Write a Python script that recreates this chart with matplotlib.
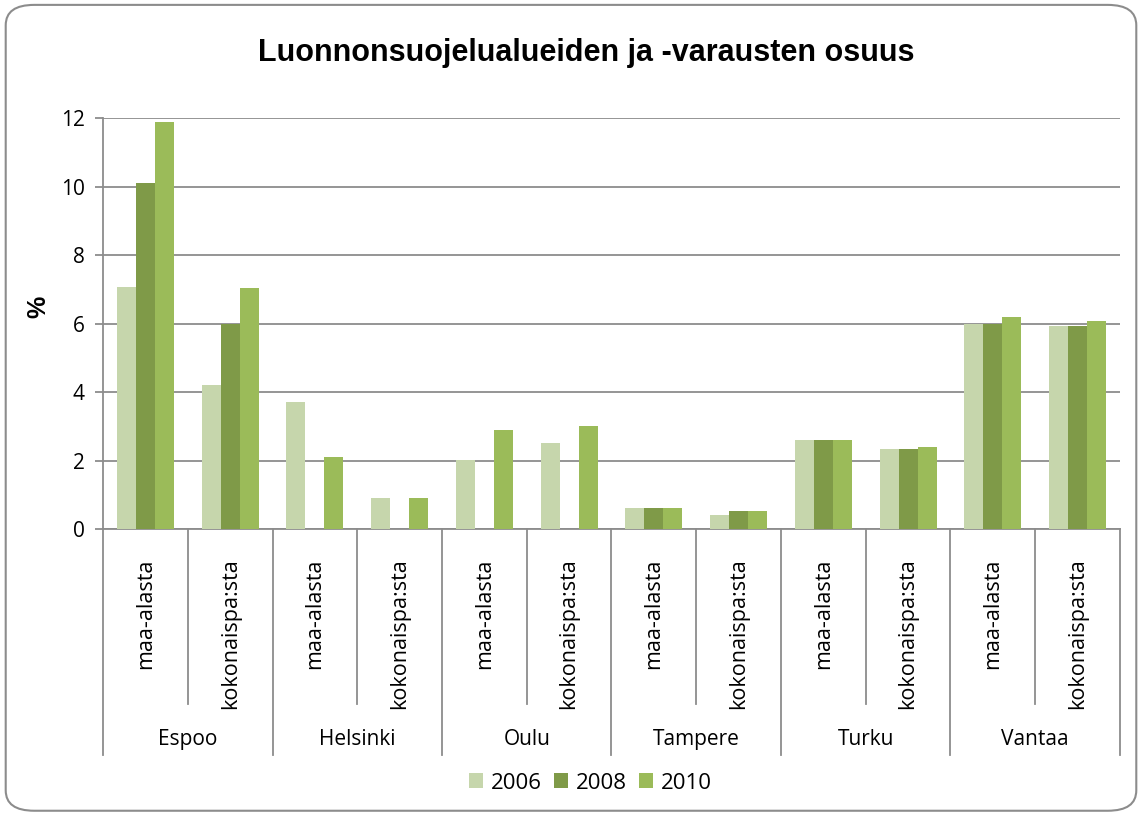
#!/usr/bin/env python3
# -*- coding: utf-8 -*-

"""
bar chart: share of nature protection areas per city, 2006/2008/2010
"""
import numpy as np
import matplotlib
matplotlib.use('Agg')
import matplotlib.pyplot as plt
from matplotlib.patches import FancyBboxPatch
import matplotlib.transforms as mtransforms

cities = ['Espoo', 'Helsinki', 'Oulu', 'Tampere', 'Turku', 'Vantaa']
measures = ['maa-alasta', 'kokonaispa:sta']
years = ['2006', '2008', '2010']

# values per (city, measure), in order Espoo maa, Espoo koko, Helsinki maa, ...
v2006 = [7.07, 4.2, 3.71, 0.9, 2.01, 2.51, 0.61, 0.41, 2.6, 2.34, 5.99, 5.93]
v2008 = [10.1, 6.0, 0.0, 0.0, 0.0, 0.0, 0.61, 0.53, 2.6, 2.34, 5.99, 5.93]
v2010 = [11.88, 7.04, 2.1, 0.9, 2.89, 3.0, 0.61, 0.53, 2.6, 2.39, 6.19, 6.07]

colors = ['#C6D6AC', '#7F9A48', '#9BBB59']
font = 'Open Sans'
grey = '#8C8C8C'


def main():
    fig = plt.figure(figsize=(11.42, 8.14), dpi=100)
    ax = fig.add_axes([0.0902, 0.3501, 0.8905, 0.5049])

    n = len(cities) * len(measures)
    x = np.arange(n)
    w = 0.224
    for k, (vals, col, yr) in enumerate(zip([v2006, v2008, v2010], colors, years)):
        ax.bar(x + (k - 1) * w, vals, width=w, color=col, label=yr, zorder=3)

    ax.set_xlim(-0.5, n - 0.5)
    ax.set_ylim(0, 12)
    ax.set_yticks(range(0, 13, 2))
    ax.yaxis.grid(True, color=grey, lw=1.3, zorder=0)
    ax.set_xticks([])
    for s in ['top', 'right']:
        ax.spines[s].set_visible(False)
    for s in ['left', 'bottom']:
        ax.spines[s].set_color(grey)
        ax.spines[s].set_linewidth(1.3)
    ax.tick_params(axis='y', length=6, width=1.3, color=grey, pad=7,
                   labelsize=15)
    for t in ax.get_yticklabels():
        t.set_fontfamily(font)

    ax.set_ylabel('%', fontsize=18, fontweight='bold', family='Liberation Sans')
    ax.yaxis.set_label_coords(-0.052, 0.54)

    # category axis: sub labels, group labels and separators
    trans = mtransforms.blended_transform_factory(ax.transData, ax.transAxes)
    for i in range(n):
        ax.text(x[i], -0.072, measures[i % 2], rotation=90, ha='center',
                va='top', fontsize=15.5, family=font, transform=trans)
    for i in range(n + 1):
        bottom = -0.55 if i % 2 == 0 else -0.426
        ax.plot([i - 0.5, i - 0.5], [0, bottom], color=grey, lw=1.3,
                transform=trans, clip_on=False)
    for j, c in enumerate(cities):
        ax.text(2 * j + 0.5, -0.513, c, ha='center', va='center', fontsize=15,
                family=font, transform=trans)

    fig.suptitle('Luonnonsuojelualueiden ja -varausten osuus', x=0.513,
                 y=0.953, fontsize=22, fontweight='bold',
                 family='Liberation Sans')

    fig.legend(loc='center', bbox_to_anchor=(0.517, 0.038), ncol=3,
               frameon=False, handlelength=0.65, handleheight=0.65,
               handletextpad=0.33, columnspacing=0.55,
               prop={'family': font, 'size': 16})

    # rounded chart border
    border = FancyBboxPatch((0.005, 0.004), 0.99, 0.99,
                            boxstyle='round,pad=0,rounding_size=0.025',
                            transform=fig.transFigure, fill=False,
                            edgecolor=grey, lw=1.5)
    fig.patches.append(border)

    fig.savefig('out.png', dpi=100)


if __name__ == '__main__':
    main()
